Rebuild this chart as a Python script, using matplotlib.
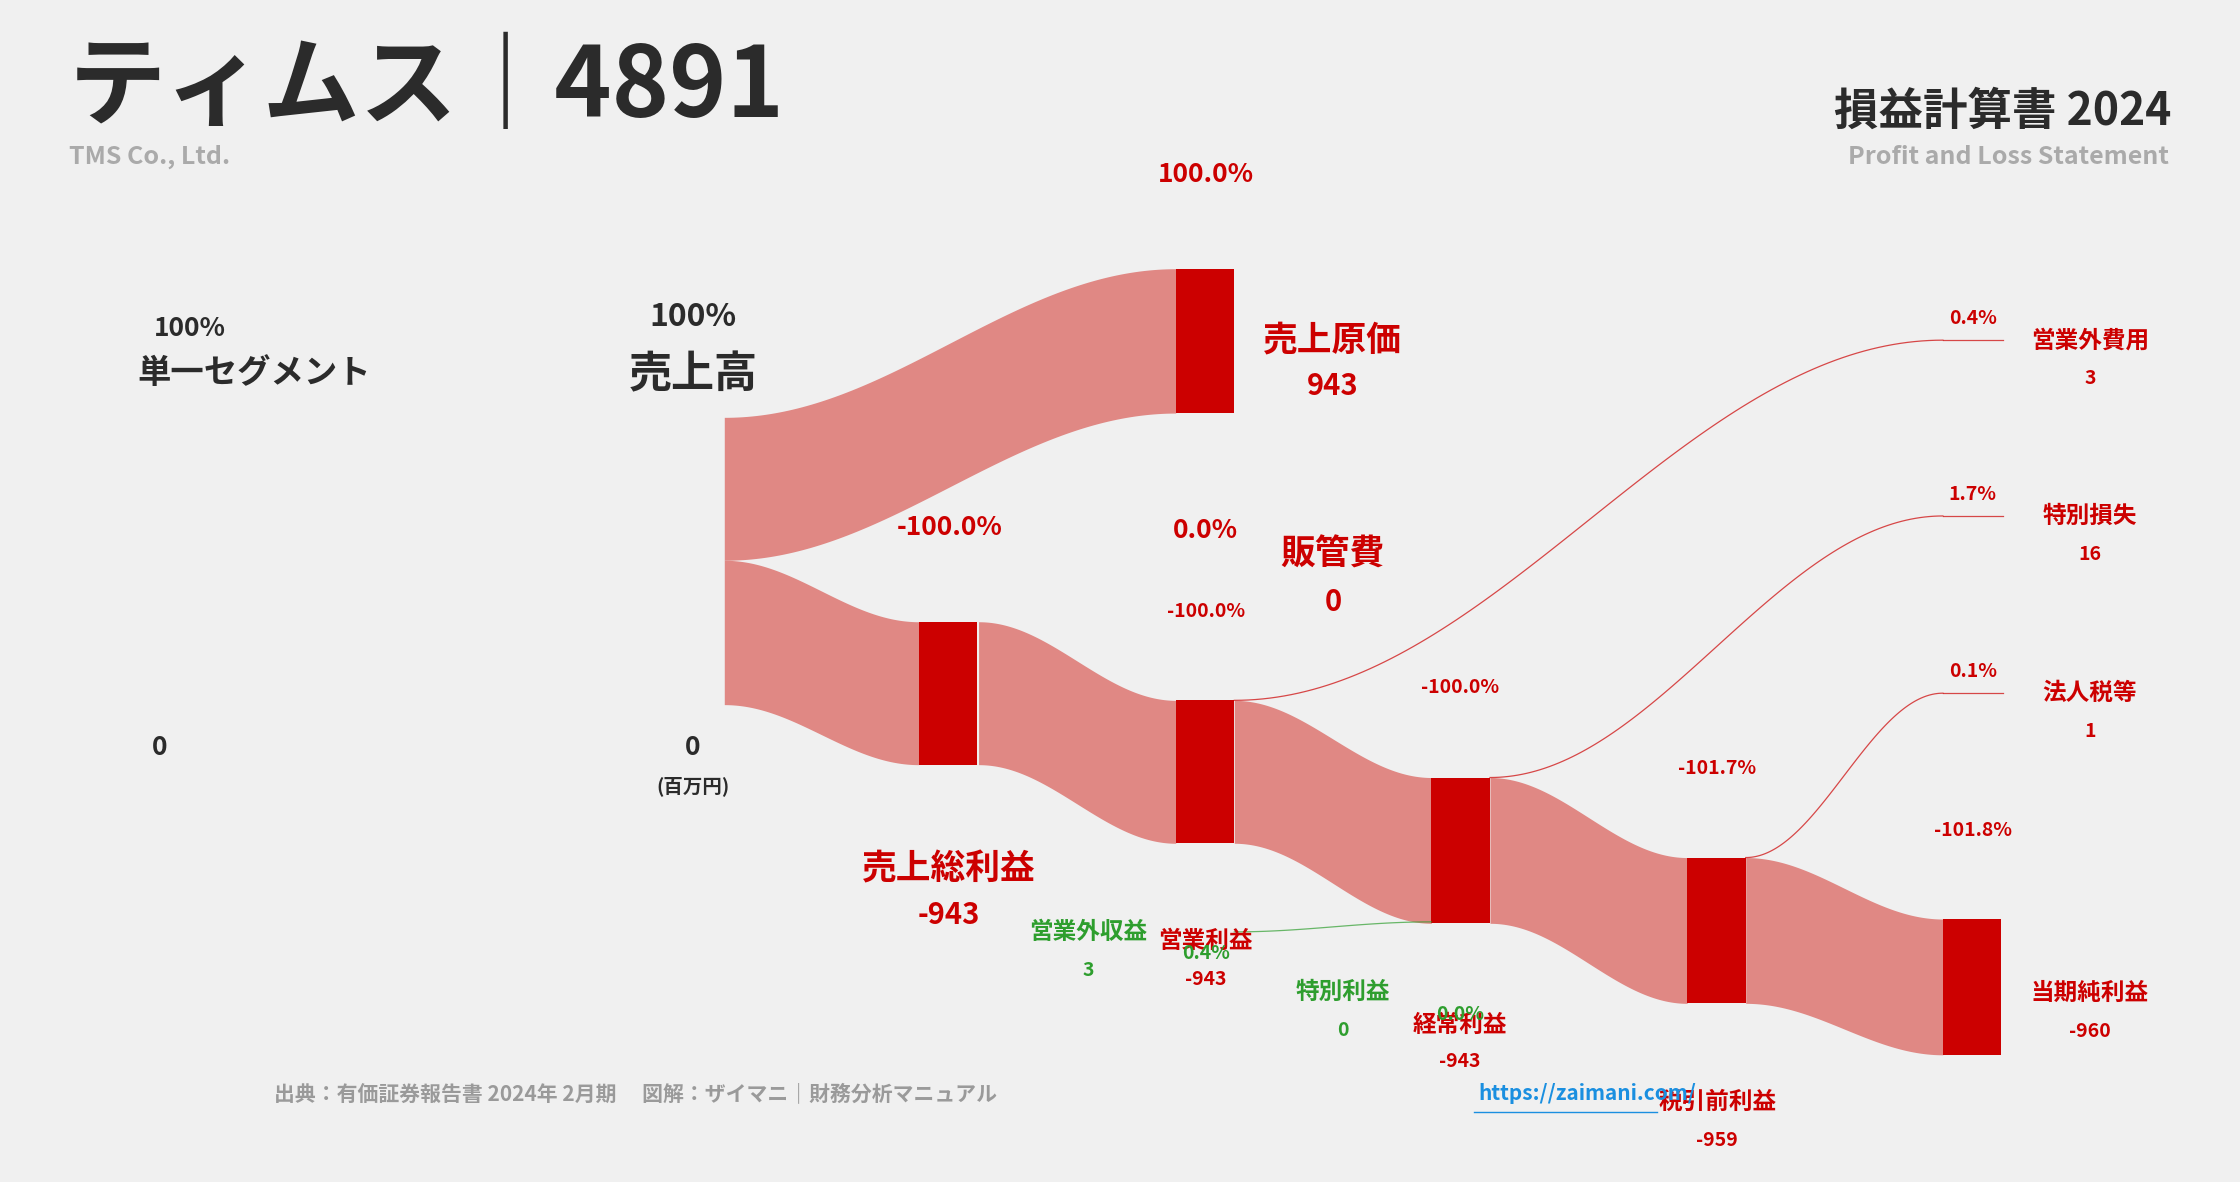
import numpy as np
import matplotlib
matplotlib.use('Agg')
import matplotlib.pyplot as plt

plt.rcParams['font.family'] = ['Noto Sans CJK JP', 'DejaVu Sans']

# --- data (百万円) ---
company = "ティムス｜4891"
company_en = "TMS Co., Ltd."
node_names = ["売上原価", "売上総利益", "営業利益", "経常利益", "税引前利益", "当期純利益"]
node_values = [943, -943, -943, -943, -959, -960]
node_pcts = ["100.0%", "-100.0%", "-100.0%", "-100.0%", "-101.7%", "-101.8%"]
side_names = ["営業外費用", "特別損失", "法人税等"]
side_values = [3, 16, 1]
side_pcts = ["0.4%", "1.7%", "0.1%"]
gain_names = ["営業外収益", "特別利益"]
gain_values = [3, 0]
gain_pcts = ["0.4%", "0.0%"]
sga_value = 0
sga_pct = "0.0%"

BAND = '#e08884'
BAR = '#cc0000'
GREEN = '#2e9e2e'
DARK = '#2b2b2b'
GRAY = '#9a9a9a'

# font sizes
L, M, S, XS = 25, 21, 17, 14

fig = plt.figure(figsize=(22.4, 11.82), dpi=100, facecolor='#f0f0f0')
ax = fig.add_axes([0, 0, 1, 1])
ax.set_xlim(0, 1568)
ax.set_ylim(827, 0)
ax.axis('off')
ax.set_facecolor('#f0f0f0')


def band(x0, x1, t0, b0, t1, b1, color=BAND):
    t = np.linspace(0, 1, 100)
    s = (1 - np.cos(np.pi * t)) / 2
    xs = x0 + (x1 - x0) * t
    ax.fill_between(xs, t0 + (t1 - t0) * s, b0 + (b1 - b0) * s, color=color, lw=0)


def thin(x0, x1, y0, y1, color):
    t = np.linspace(0, 1, 100)
    s = (1 - np.cos(np.pi * t)) / 2
    ax.plot(x0 + (x1 - x0) * t, y0 + (y1 - y0) * s, color=color, lw=0.9, alpha=0.7)


def bar(x, y0, y1):
    ax.add_patch(plt.Rectangle((x, y0), 41, y1 - y0, color=BAR, lw=0))


def lab(x, y, s, size, color=BAR, ha='center'):
    ax.text(x, y, s, fontsize=size, fontweight='bold', color=color, ha=ha, va='center')


# bands
band(507, 823, 292, 392, 188, 289)
band(507, 643, 392, 493, 435, 535)
band(685, 823, 435, 535, 490, 590)
band(864, 1002, 490, 590, 544, 646)
band(1043, 1181, 544, 646, 600, 702)
band(1222, 1360, 600, 702, 643, 738)
bars = [(823, 188, 289), (643, 435, 535), (823, 490, 590), (1002, 544, 646), (1181, 600, 702), (1360, 643, 738)]
for b in bars:
    bar(*b)

# thin flows
thin(864, 1360, 490, 238, BAR)
thin(1043, 1360, 544, 361, BAR)
thin(1222, 1360, 600, 485, BAR)
for y in (238, 361, 485):
    ax.plot([1360, 1402], [y, y], color=BAR, lw=0.9, alpha=0.7)
thin(864, 1002, 652, 645, GREEN)

# title
lab(48, 62, company, 70, DARK, 'left')
lab(48, 110, company_en, 18, '#aaaaaa', 'left')
lab(1520, 78, "損益計算書 2024", 32, DARK, 'right')
lab(1518, 110, "Profit and Loss Statement", 18, '#aaaaaa', 'right')

# left labels
lab(133, 230, "100%", 19, DARK)
lab(178, 261, "単一セグメント", 24, DARK)
lab(112, 523, "0", 19, DARK)
lab(485, 222, "100%", 23, DARK)
lab(485, 262, "売上高", 31, DARK)
lab(485, 523, "0", 19, DARK)
lab(485, 550, "(百万円)", 14, DARK)

# node labels
lab(844, 122, node_pcts[0], 19)
lab(933, 238, node_names[0], L)
lab(933, 270, f"{node_values[0]:,}", M)
lab(665, 369, node_pcts[1], 19)
lab(664, 608, node_names[1], L)
lab(664, 640, f"{node_values[1]:,}", M)
lab(844, 371, sga_pct, 19)
lab(933, 388, "販管費", L)
lab(933, 421, f"{sga_value}", M)
lab(844, 428, node_pcts[2], XS)
lab(844, 658, node_names[2], S)
lab(844, 685, f"{node_values[2]:,}", XS)
lab(1022, 481, node_pcts[3], XS)
lab(1022, 717, node_names[3], S)
lab(1022, 743, f"{node_values[3]:,}", XS)
lab(1202, 538, node_pcts[4], XS)
lab(1202, 771, node_names[4], S)
lab(1202, 798, f"{node_values[4]:,}", XS)
lab(1381, 581, node_pcts[5], XS)
lab(1463, 695, node_names[5], S)
lab(1463, 722, f"{node_values[5]:,}", XS)

# side (cost) labels
for name, v, p, y in zip(side_names, side_values, side_pcts, (238, 361, 485)):
    lab(1381, y - 15, p, XS)
    lab(1463, y, name, S)
    lab(1463, y + 27, f"{v}", XS)

# gain labels
for name, v, p, x, y, px, py in zip(gain_names, gain_values, gain_pcts,
                                    (762, 940), (652, 694), (844, 1022), (667, 710)):
    lab(x, y, name, S, GREEN)
    lab(x, y + 27, f"{v}", XS, GREEN)
    lab(px, py, p, XS, GREEN)

# footer
lab(698, 765, "出典：有価証券報告書 2024年 2月期　 図解：ザイマニ｜財務分析マニュアル", 15, GRAY, 'right')
lab(1035, 765, "https://zaimani.com/", 15, '#1a8fe0', 'left')
ax.plot([1032, 1160], [778, 778], color='#1a8fe0', lw=1)

fig.savefig('out.png', dpi=100, facecolor=fig.get_facecolor())
